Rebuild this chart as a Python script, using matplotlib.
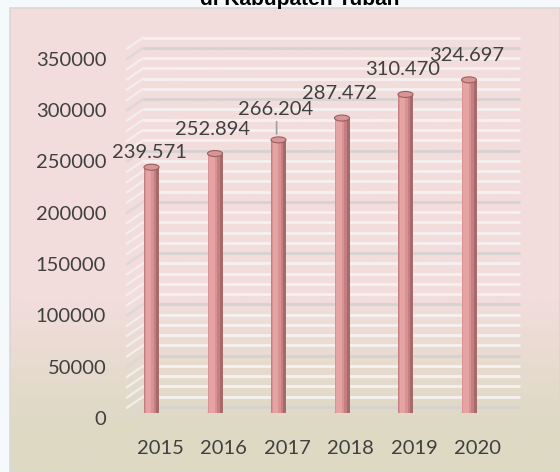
import matplotlib
matplotlib.use("Agg")
import matplotlib.pyplot as plt
import matplotlib.transforms as mtransforms
from matplotlib.patches import Ellipse, Rectangle
import numpy as np

years = ["2015", "2016", "2017", "2018", "2019", "2020"]
values = [239571, 252894, 266204, 287472, 310470, 324697]
value_labels = ["239.571", "252.894", "266.204", "287.472", "310.470", "324.697"]
yticks = [0, 50000, 100000, 150000, 200000, 250000, 300000, 350000]
title = "di Kabupaten Tuban"

# label offsets above bar tops (pixels) - styling only
label_dy_px = [15, 24, 30, 25, 25, 24]

W, H = 560, 472
DPI = 100
fig = plt.figure(figsize=(W / DPI, H / DPI), dpi=DPI)
fig.patch.set_facecolor("#f6f9fc")
FONT = ["Lato", "DejaVu Sans"]
TXT = "#404040"

def px(x0, y0, x1, y1):
    """pixel box (top-left origin) -> figure fraction rect"""
    return [x0 / W, 1 - y1 / H, (x1 - x0) / W, (y1 - y0) / H]

# panel background with gradient
bg = fig.add_axes(px(10, 8, 560, 472))
bg.set_axis_off()
top = np.array([242, 221, 220]) / 255
bot = np.array([221, 217, 195]) / 255
ys = np.linspace(8, 472, 400)
t = np.clip((ys - 300) / (430 - 300), 0, 1)[:, None]
grad = top * (1 - t) + bot * t
bg.imshow(grad[:, None, :], aspect="auto", extent=[0, 1, 0, 1], origin="upper")
bg.add_patch(Rectangle((0, 0), 1, 1, transform=bg.transAxes, fill=False,
                       edgecolor="#d8d8d8", lw=1.2, clip_on=False))

# main plot axes: x from 143 to 520 px, y 0 at 413 px, 51.3 px per 50000
ppu = 51.3 / 50000.0
ymax = 360000
ytop = 413 - ymax * ppu
ax = fig.add_axes(px(143, ytop, 520, 413))
ax.set_facecolor("none")
spacing = 63.5
x_left = (143 - 151.5) / spacing
x_right = (520 - 151.5) / spacing
ax.set_xlim(x_left, x_right)
ax.set_ylim(0, ymax)
for s in ax.spines.values():
    s.set_visible(False)

# back wall gridlines (shifted up 6 px), with side-wall diagonals
up = mtransforms.ScaledTranslation(0, 6 / DPI, fig.dpi_scale_trans)
gtrans = ax.get_yaxis_transform() + up
side_dx = 16 / 377.0
drop = 11 / ppu
for v in range(0, 360001, 10000):
    major = (v % 50000 == 0)
    col = "#d6d2d2" if major else "#f6f1f1"
    ax.plot([0, 1], [v, v], transform=gtrans, color=col, lw=2.0,
            solid_capstyle="butt", zorder=1, clip_on=False)
    ax.plot([-side_dx, 0], [v - drop, v], transform=gtrans, color="#f3eeee" if not major else "#dcd8d8",
            lw=1.6, zorder=1, clip_on=False)

# cylinder bars
xs = np.arange(len(years))
bw = 15 / spacing
layers = [(1.00, 0.0, "#a66a6a"), (0.80, -0.02, "#c48080"),
          (0.60, -0.04, "#d89292"), (0.38, -0.05, "#e6a3a3")]
for frac, off, col in layers:
    ax.bar(xs + off * bw * 4, values, width=bw * frac, color=col, zorder=3, linewidth=0)
eh = 6 / ppu
for x, v in zip(xs, values):
    ax.add_patch(Ellipse((x, v), bw, eh, facecolor="#d99494", edgecolor="#9a6060",
                         lw=0.8, zorder=4))
    ax.add_patch(Ellipse((x, 0), bw, eh, facecolor="#c48080", edgecolor="none",
                         lw=0, zorder=2.9))

# value labels
for i, (x, v, lab) in enumerate(zip(xs, values, value_labels)):
    dy = label_dy_px[i] * 0.72
    ax.annotate(lab, (x, v), xytext=(-2.5 * 0.72, dy), textcoords="offset points",
                ha="center", va="center", fontsize=14.5, color=TXT, family=FONT, zorder=5)
# leader line for 2017
ax.annotate("", (2 - 0.03, values[2] + 3 / ppu), xytext=(2 - 0.03, values[2] + 21 / ppu),
            arrowprops=dict(arrowstyle="-", color="#a0a0a0", lw=1.2), zorder=5)

# ticks
ax.set_yticks(yticks)
ax.set_yticklabels([str(v) for v in yticks], family=FONT, fontsize=14.5, color=TXT)
ax.set_xticks(xs)
ax.set_xticklabels(years, family=FONT, fontsize=14.5, color=TXT)
ax.tick_params(axis="both", length=0)
ax.tick_params(axis="y", pad=26.5)
ax.tick_params(axis="x", pad=19.5)
down = mtransforms.ScaledTranslation(0, -5 / DPI, fig.dpi_scale_trans)
for lab in ax.get_yticklabels():
    lab.set_transform(lab.get_transform() + down)
right = mtransforms.ScaledTranslation(8.5 / DPI, 0, fig.dpi_scale_trans)
for lab in ax.get_xticklabels():
    lab.set_transform(lab.get_transform() + right)

# title (cut off at top, as in the source)
fig.text(300 / W, 1 - 5 / H, title, ha="center", va="baseline", fontsize=15,
         fontweight="bold", color="black", family=["Liberation Sans", "DejaVu Sans"])

fig.savefig("out.png", dpi=DPI, facecolor=fig.get_facecolor())
